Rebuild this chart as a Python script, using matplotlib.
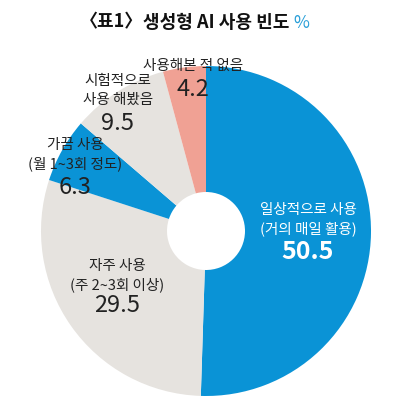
import matplotlib
matplotlib.use('Agg')
import matplotlib.pyplot as plt

# font that has the hangul glyphs, DejaVu as fallback
plt.rcParams['font.family'] = ['Noto Sans CJK KR', 'DejaVu Sans']

# data (percent)
categories = ['일상적으로 사용\n(거의 매일 활용)', '자주 사용\n(주 2~3회 이상)',
              '가끔 사용\n(월 1~3회 정도)', '시험적으로\n사용 해봤음', '사용해본 적 없음']
values = [50.5, 29.5, 6.3, 9.5, 4.2]
colors = ['#0a93d6', '#e6e3df', '#0a93d6', '#e6e3df', '#f0a194']

W, H = 399, 409
fig = plt.figure(figsize=(W / 100, H / 100), dpi=100)
ax = fig.add_axes([0, 0, 1, 1])

# pie in pixel units (y measured from bottom)
cx, cy, r = 206, H - 231, 165
ax.pie(values, colors=colors, startangle=90, counterclock=False,
       center=(cx, cy), radius=r,
       wedgeprops=dict(width=r - 39, linewidth=0))
ax.set_xlim(0, W)
ax.set_ylim(0, H)
ax.set_aspect('auto')
ax.axis('off')

# label positions: x center, y of first line, y of value (pixels from top)
label_pos = [(308, 210, 252), (117, 266, 306), (75, 145, 187),
             (118, 81, 123), (193, 66, 89)]
txt_col = ['white', '#222222', '#222222', '#222222', '#222222']

for cat, v, (x, y1, yv), c in zip(categories, values, label_pos, txt_col):
    lines = cat.split('\n')
    for i, ln in enumerate(lines):
        ax.text(x, H - (y1 + i * 19), ln, ha='center', va='center',
                fontsize=10.5, color=c)
    if c == 'white':
        ax.text(x, H - yv, f'{v}', ha='center', va='center',
                fontsize=18, fontweight='bold', color=c)
    else:
        ax.text(x, H - yv, f'{v}', ha='center', va='center',
                fontsize=17, fontweight='light', color=c)

# title: brackets drawn separately so they sit close to the rest
ax.text(143, H - 22, '생성형 AI 사용 빈도', ha='left', va='center',
        fontsize=13, fontweight='bold', color='#111111')
ax.text(143, H - 22, '〈표1〉', ha='right', va='center',
        fontsize=13, fontweight='bold', color='#111111')
ax.text(293, H - 23, '%', ha='left', va='center',
        fontsize=12.5, color='#2a9fd8')

fig.savefig('out.png', dpi=100)
